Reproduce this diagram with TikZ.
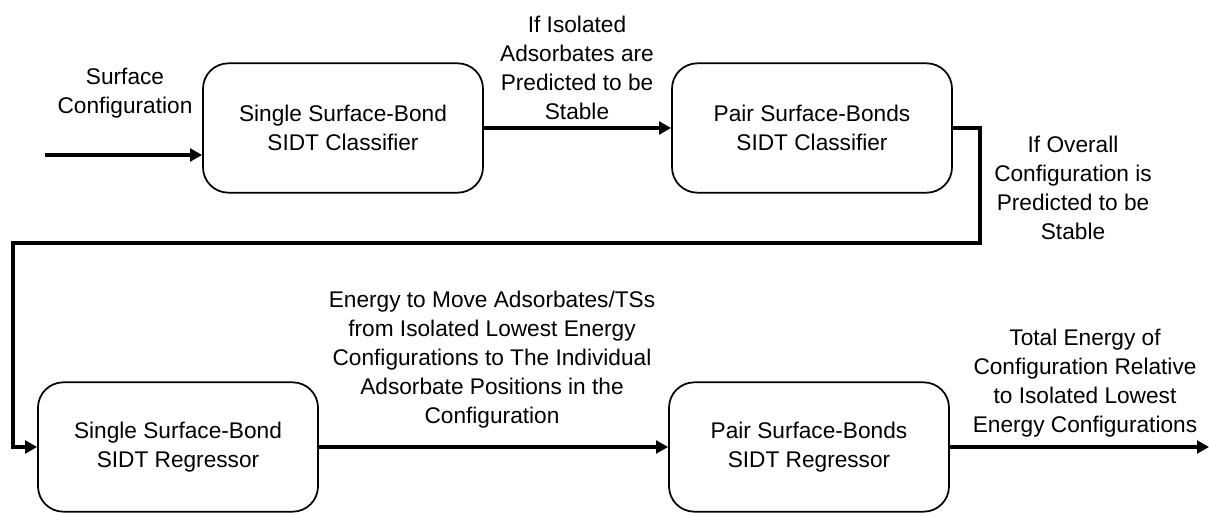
\documentclass[tikz,border=0pt]{standalone}
\usepackage{fontspec}
\setmainfont{Liberation Sans}
\usetikzlibrary{arrows.meta, positioning}

\newcommand{\labelfont}{\fontsize{17}{21.75}\selectfont}

\tikzset{
  stage/.style={draw, rounded corners=19pt, line width=1.3pt, minimum width=210pt, minimum height=97pt, align=center, font=\labelfont},
  flow/.style={line width=2.8pt, -{Triangle[length=9pt, width=9.5pt]}},
  note/.style={align=center, font=\labelfont, inner sep=0pt}
}

\begin{document}
\begin{tikzpicture}[x=0.75pt, y=-0.75pt]
    \useasboundingbox (0,0) rectangle (1209,513);

    % Classifiers
    \node[stage] (singc) at (343,128) {Single Surface-Bond\\SIDT Classifier};
    \node[stage] (pairc) at (812,128) {Pair Surface-Bonds\\SIDT Classifier};

    % Regressors
    \node[stage] (singr) at (178,447) {Single Surface-Bond\\SIDT Regressor};
    \node[stage] (pairr) at (809,447) {Pair Surface-Bonds\\SIDT Regressor};

    % Free ends and bends
    \coordinate (in) at (45,155);
    \coordinate (out) at (1209,447);
    \coordinate (railr) at (980,243);
    \coordinate (raill) at (13,243);

    % Arrows
    \draw[flow] (in) -- (in -| singc.west);
    \draw[flow] (singc) -- (pairc);
    \draw[flow, rounded corners=0pt] (pairc.east) -| (railr) -- (raill) |- (singr.west);
    \draw[flow] (singr) -- (pairr);
    \draw[flow] (pairr.east) -- (out);

    % Labels
    \node[note] (lin) at (125,93) {Surface\\Configuration};
    \node[note] (lstab) at (577,68) {If Isolated\\Adsorbates are\\Predicted to be\\Stable};
    \node[note] (lover) at (1073,188) {If Overall\\Configuration is\\Predicted to be\\Stable};
    \node[note] (lmove) at (492,360) {Energy to Move Adsorbates/TSs\\from Isolated Lowest Energy\\Configurations to The Individual\\Adsorbate Positions in the\\Configuration};
    \node[note] (ltot) at (1085,383) {Total Energy of\\Configuration Relative\\to Isolated Lowest\\Energy Configurations};
\end{tikzpicture}
\end{document}
